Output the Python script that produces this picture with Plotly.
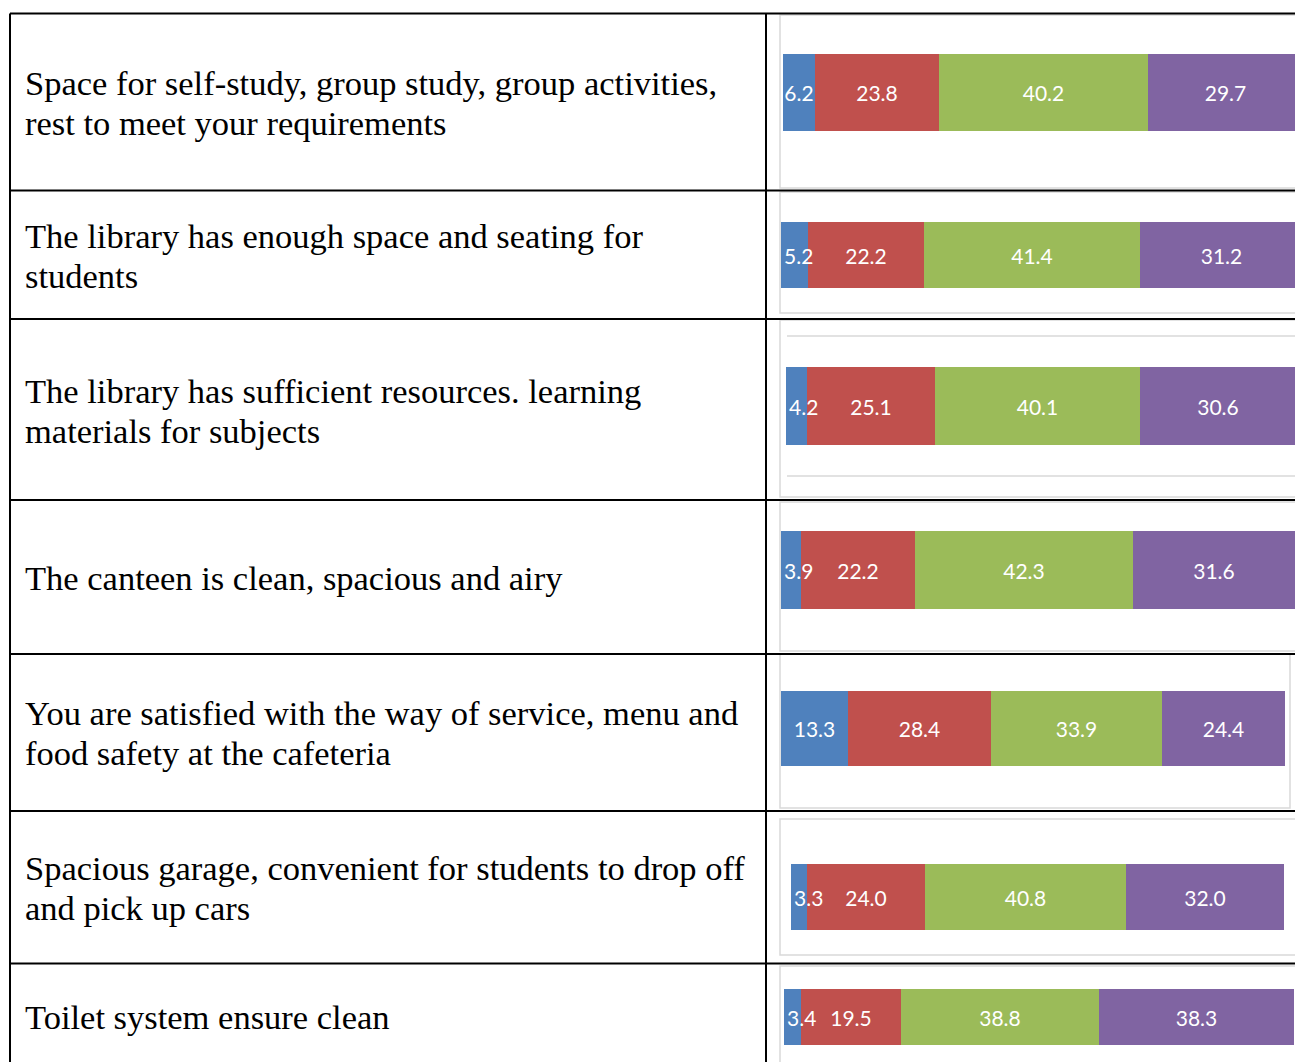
import plotly.graph_objects as go

# ---------------- data ----------------
row_labels = [
    "Space for self-study, group study, group activities,\nrest to meet your requirements",
    "The library has enough space and seating for\nstudents",
    "The library has sufficient resources. learning\nmaterials for subjects",
    "The canteen is clean, spacious and airy",
    "You are satisfied with the way of service, menu and\nfood safety at the cafeteria",
    "Spacious garage, convenient for students to drop off\nand pick up cars",
    "Toilet system ensure clean",
]
series_names = ["Level 1", "Level 2", "Level 3", "Level 4"]
level1 = [6.2, 5.2, 4.2, 3.9, 13.3, 3.3, 3.4]
level2 = [23.8, 22.2, 25.1, 22.2, 28.4, 24.0, 19.5]
level3 = [40.2, 41.4, 40.1, 42.3, 33.9, 40.8, 38.8]
level4 = [29.7, 31.2, 30.6, 31.6, 24.4, 32.0, 38.3]
series_values = [level1, level2, level3, level4]
colors = ["#4F81BD", "#C0504D", "#9BBB59", "#8064A2"]

# ---------------- layout geometry (screen pixels) ----------------
OFF = 8                      # page body margin
SW, SH = 1303, 1062          # screen size
W, H = SW - OFF, SH - OFF    # figure size


def px(x):
    return (x - OFF) / W


def py(y):
    return 1 - (y - OFF) / H


# bar extents per row: left, right (end of full stack), top, bottom
bar_geom = [
    (783, 1303, 54, 131),
    (781, 1303, 222, 288),
    (786, 1296, 367, 445),
    (781, 1295, 531, 609),
    (781, 1285, 691, 766),
    (791, 1284, 864, 930),
    (784, 1294, 989, 1045),
]
# chart boxes: left, right, top, bottom
boxes = [
    (780, 1320, 15, 188),
    (780, 1320, 192, 313),
    (780, 1320, 320, 497),
    (780, 1296, 502, 651),
    (780, 1290, 654, 808),
    (780, 1301, 819, 955),
    (780, 1320, 966, 1080),
]
row_lines = [13.5, 190.5, 319, 500, 654, 811, 963.5]
text_centers = [(83, 123), (236, 276), (391, 431), (578,), (713, 753), (868, 908), (1017,)]

fig = go.Figure()
layout_axes = {}
for i in range(7):
    left, right, top, bottom = bar_geom[i]
    vals = [s[i] for s in series_values]
    total = sum(vals)
    bases = [sum(vals[:k]) for k in range(4)]
    ax = "" if i == 0 else str(i + 1)
    # draw from last segment to first so that overflowing labels of narrow
    # segments stay visible on top of their neighbours (stack positions via base)
    for k in reversed(range(4)):
        v = vals[k]
        anchor = "start" if v < 6 else "middle"
        fig.add_trace(go.Bar(
            x=[v], y=[0], base=[bases[k]], orientation="h",
            name=series_names[k], marker=dict(color=colors[k], line=dict(width=0)),
            width=1, texttemplate="%{x:.1f}", textposition="inside",
            insidetextanchor=anchor, textangle=0, cliponaxis=False,
            textfont=dict(family="Lato", size=21, color="white"),
            xaxis="x" + ax, yaxis="y" + ax, showlegend=False, hoverinfo="x",
        ))
    layout_axes["xaxis" + ax] = dict(domain=[px(left), min(px(right), 1)], range=[0, total],
                                     visible=False, fixedrange=True, anchor="y" + ax)
    layout_axes["yaxis" + ax] = dict(domain=[py(bottom), py(top)], range=[-0.5, 0.5],
                                     visible=False, fixedrange=True, anchor="x" + ax)

shapes = []
# chart boxes
for (l, r, t, b) in boxes:
    shapes.append(dict(type="rect", xref="paper", yref="paper", x0=px(l), x1=px(r),
                       y0=py(b), y1=py(t), line=dict(color="#D9D9D9", width=1.5),
                       fillcolor="white", layer="below"))
# row-3 chart gray lines
for yy in (336, 476):
    shapes.append(dict(type="line", xref="paper", yref="paper", x0=px(787), x1=px(1295),
                       y0=py(yy), y1=py(yy), line=dict(color="#D9D9D9", width=1.5), layer="below"))
# table lines
for yy in row_lines:
    shapes.append(dict(type="line", xref="paper", yref="paper", x0=px(10), x1=px(SW + 5),
                       y0=py(yy), y1=py(yy), line=dict(color="black", width=2), layer="above"))
for xx in (10, 766):
    shapes.append(dict(type="line", xref="paper", yref="paper", x0=px(xx), x1=px(xx),
                       y0=py(13.5), y1=py(SH + 5), line=dict(color="black", width=2), layer="above"))

annotations = []
for i, lab in enumerate(row_labels):
    lines = lab.split("\n")
    for j, line in enumerate(lines):
        annotations.append(dict(
            text=line, xref="paper", yref="paper", x=px(23), y=py(text_centers[i][j]),
            xanchor="left", yanchor="middle", showarrow=False,
            font=dict(family="Liberation Serif", size=34.5, color="black"),
        ))

fig.update_layout(
    width=W, height=H, margin=dict(l=0, r=0, t=0, b=0),
    paper_bgcolor="white", plot_bgcolor="rgba(0,0,0,0)",
    barmode="overlay", bargap=0,
    uniformtext=dict(mode="show", minsize=21),
    shapes=shapes, annotations=annotations, showlegend=False,
    **layout_axes,
)
fig.write_html("out.html")
